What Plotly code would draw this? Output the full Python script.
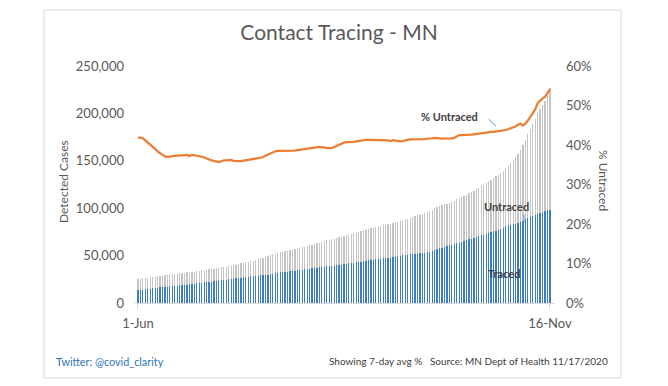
import pandas as pd
import plotly.graph_objects as go

dates = pd.date_range("2020-06-01", "2020-11-16", freq="D")

total_cases = [
    25000, 25400, 25900, 26300, 26700,
    27200, 27500, 27900, 28300, 28600,
    29000, 29400, 29800, 30100, 30500,
    30800, 31100, 31400, 31700, 32000,
    32300, 32600, 32900, 33200, 33500,
    33900, 34300, 34700, 35100, 35500,
    35900, 36300, 36800, 37200, 37600,
    38000, 38300, 38600, 39200, 39800,
    40500, 41100, 41700, 42300, 42900,
    43500, 44100, 44800, 45500, 46200,
    47000, 47800, 48700, 49500, 50400,
    51200, 52000, 52800, 53500, 54100,
    54700, 55300, 55900, 56400, 56900,
    57500, 58200, 58900, 59600, 60300,
    61000, 61700, 62400, 63100, 63800,
    64500, 65200, 66000, 66700, 67300,
    67800, 68400, 69100, 69900, 70700,
    71500, 72300, 73000, 73700, 74400,
    75100, 75800, 76500, 77200, 78000,
    78800, 79600, 80400, 81000, 81500,
    81900, 82300, 82900, 83600, 84300,
    85000, 85700, 86500, 87300, 88200,
    89000, 89800, 90600, 91500, 92400,
    93300, 94300, 95300, 96300, 97400,
    98600, 99800, 101000, 102200, 103100,
    104000, 104900, 105800, 106900, 108100,
    109300, 110500, 111700, 113000, 114300,
    115600, 117000, 118500, 120000, 121600,
    123200, 124900, 126700, 128500, 130200,
    131900, 133600, 135400, 137300, 139500,
    141900, 144400, 147200, 150400, 153700,
    157300, 161500, 166500, 172000, 177800,
    183500, 189000, 194500, 200000, 204500,
    209000, 213500, 219500, 227000,
]

traced_cases = [
    13300, 13700, 14100, 14500, 14800,
    15200, 15500, 15900, 16200, 16500,
    16800, 17000, 17300, 17500, 17700,
    18000, 18200, 18500, 18800, 19000,
    19300, 19600, 19900, 20200, 20600,
    21000, 21400, 21700, 22000, 22300,
    22600, 22900, 23300, 23600, 23900,
    24300, 24700, 25100, 25500, 25800,
    26100, 26500, 26800, 27100, 27400,
    27700, 28000, 28200, 28500, 28800,
    29100, 29300, 29600, 29900, 30300,
    30800, 31300, 31800, 32200, 32500,
    32800, 33100, 33400, 33800, 34200,
    34600, 35000, 35300, 35600, 36000,
    36300, 36600, 36900, 37200, 37500,
    37900, 38300, 38700, 39100, 39300,
    39500, 39700, 40000, 40500, 41000,
    41500, 41900, 42200, 42500, 42800,
    43200, 43600, 44000, 44500, 45000,
    45400, 45800, 46200, 46600, 46800,
    47000, 47200, 47400, 47800, 48400,
    49000, 49500, 49900, 50300, 50700,
    51000, 51300, 51600, 51900, 52200,
    52400, 52600, 52900, 53300, 53700,
    54500, 55500, 56500, 57500, 58400,
    59300, 60100, 61000, 61700, 62400,
    63100, 63800, 64600, 65400, 66300,
    67200, 68000, 68900, 69800, 70600,
    71400, 72200, 73000, 73900, 74700,
    75500, 76400, 77300, 78400, 79600,
    80800, 82000, 82800, 83300, 83800,
    84300, 85300, 86700, 88200, 89500,
    90700, 91800, 92900, 94000, 95000,
    95900, 96700, 97600, 98500,
]

pct_untraced = [
    41.9, 41.9, 41.7, 41.2, 40.6,
    40.1, 39.7, 39.0, 38.4, 37.9,
    37.5, 37.1, 37.0, 37.1, 37.2,
    37.3, 37.4, 37.4, 37.4, 37.5,
    37.5, 37.2, 37.5, 37.4, 37.3,
    37.2, 37.1, 36.9, 36.6, 36.3,
    36.1, 36.0, 35.8, 35.7, 35.9,
    36.1, 36.1, 36.2, 36.2, 36.0,
    35.9, 35.9, 35.9, 36.0, 36.1,
    36.2, 36.4, 36.4, 36.5, 36.6,
    36.8, 36.9, 37.3, 37.6, 37.8,
    38.1, 38.4, 38.5, 38.5, 38.5,
    38.5, 38.5, 38.5, 38.5, 38.6,
    38.7, 38.8, 38.9, 39.0, 39.1,
    39.2, 39.3, 39.4, 39.5, 39.5,
    39.4, 39.4, 39.2, 39.2, 39.2,
    39.5, 39.8, 40.0, 40.3, 40.6,
    40.7, 40.7, 40.8, 40.8, 40.9,
    41.0, 41.2, 41.3, 41.3, 41.3,
    41.3, 41.3, 41.3, 41.3, 41.3,
    41.3, 41.3, 41.2, 41.0, 41.2,
    41.1, 41.0, 40.9, 41.0, 41.2,
    41.3, 41.4, 41.4, 41.4, 41.5,
    41.5, 41.5, 41.5, 41.6, 41.6,
    41.7, 41.8, 41.8, 41.7, 41.6,
    41.6, 41.6, 41.6, 41.7, 41.8,
    42.2, 42.5, 42.5, 42.5, 42.6,
    42.6, 42.6, 42.7, 42.8, 42.9,
    43.0, 43.1, 43.1, 43.2, 43.3,
    43.3, 43.4, 43.4, 43.5, 43.7,
    43.8, 44.0, 44.2, 44.4, 44.7,
    45.1, 45.4, 44.9, 45.4, 46.2,
    47.2, 48.2, 49.0, 50.6, 51.3,
    51.8, 52.2, 53.1, 54.1,
]

untraced_cases = [t - r for t, r in zip(total_cases, traced_cases)]
pct_frac = [p / 100 for p in pct_untraced]

left_ticks = [0, 50000, 100000, 150000, 200000, 250000]
right_ticks = [0, 0.1, 0.2, 0.3, 0.4, 0.5, 0.6]
x_tick_dates = ["2020-06-01", "2020-11-16"]
x_tick_labels = ["1-Jun", "16-Nov"]

FONT = "Lato"
GREY = "#595959"
W, H = 668, 386
PL, PR, PT, PB = 135, 555, 66, 303  # plot area in pixels


def px(x):
    return (x - PL) / (PR - PL)


def py(y):
    return (PB - y) / (PB - PT)


fig = go.Figure()
fig.add_trace(go.Bar(x=dates, y=traced_cases, name="Traced",
                     marker=dict(color="#3A7DC6", line=dict(width=0))))
fig.add_trace(go.Bar(x=dates, y=untraced_cases, name="Untraced",
                     marker=dict(color="#C4C4C4", line=dict(width=0))))
fig.add_trace(go.Scatter(x=dates, y=pct_frac, name="% Untraced", yaxis="y2",
                         mode="lines", line=dict(color="#ED7D31", width=2.25)))

x0 = pd.Timestamp("2020-06-01") - pd.Timedelta(hours=29)
x1 = x0 + pd.Timedelta(days=(PR - PL) / 2.452)

fig.update_layout(
    width=W, height=H,
    margin=dict(l=PL, r=W - PR, t=PT, b=H - PB, pad=0),
    paper_bgcolor="white", plot_bgcolor="white",
    barmode="stack", bargap=0.5,
    showlegend=False,
    font=dict(family=FONT, color=GREY, size=13),
    title=dict(text="Contact Tracing - MN", x=339 / W, xanchor="center",
               y=1 - 33 / H, yanchor="middle",
               font=dict(family=FONT, size=21, color=GREY)),
    xaxis=dict(type="date", range=[x0, x1], tickvals=x_tick_dates,
               ticktext=x_tick_labels, showgrid=False, zeroline=False,
               showline=True, linecolor="#D9D9D9", linewidth=1,
               ticks="outside", ticklen=5, tickcolor="#D9D9D9",
               ticklabelstandoff=3, tickfont=dict(size=13, color=GREY)),
    yaxis=dict(range=[0, 250000], tickvals=left_ticks, tickformat=",d",
               showgrid=False, zeroline=False, showline=False,
               ticklabelstandoff=10, tickfont=dict(size=13, color=GREY)),
    yaxis2=dict(range=[0, 0.6], tickvals=right_ticks, tickformat=".0%",
                overlaying="y", side="right", showgrid=False, zeroline=False,
                showline=False, ticklabelstandoff=10,
                tickfont=dict(size=13, color=GREY)),
)

# chart border
fig.add_shape(type="rect", xref="paper", yref="paper",
              x0=px(44), x1=px(621), y0=py(378), y1=py(10),
              line=dict(color="#D9D9D9", width=1), layer="below")

ann = []
ann.append(dict(text="Detected Cases", xref="paper", yref="paper",
                x=px(63), y=py(182), textangle=-90, showarrow=False,
                xanchor="center", yanchor="middle",
                font=dict(size=12, color=GREY)))
ann.append(dict(text="% Untraced", xref="paper", yref="paper",
                x=px(604), y=py(180), textangle=90, showarrow=False,
                xanchor="center", yanchor="middle",
                font=dict(size=12, color=GREY)))
ann.append(dict(text="<b>% Untraced</b>", xref="paper", yref="paper",
                x=px(449), y=py(116), showarrow=False,
                xanchor="center", yanchor="middle",
                font=dict(size=11, color="#404040")))
ann.append(dict(text="<b>Untraced</b>", xref="paper", yref="paper",
                x=px(506), y=py(206), showarrow=False,
                xanchor="center", yanchor="middle",
                font=dict(size=11, color="#404040")))
ann.append(dict(text="<b>Traced</b>", xref="paper", yref="paper",
                x=px(504), y=py(273), showarrow=False,
                xanchor="center", yanchor="middle",
                font=dict(size=11, color="#404040")))
# leader lines
ann.append(dict(text="", xref="paper", yref="paper", x=px(496), y=py(126),
                ax=-9, ay=-8, showarrow=True, arrowhead=0, arrowwidth=1,
                arrowcolor="#5B9BD5"))
ann.append(dict(text="", xref="paper", yref="paper", x=px(524), y=py(223),
                ax=0, ay=-10, showarrow=True, arrowhead=0, arrowwidth=1,
                arrowcolor="#5B9BD5"))
ann.append(dict(text="Twitter: @covid_clarity", xref="paper", yref="paper",
                x=px(54), y=py(361), showarrow=False,
                xanchor="left", yanchor="middle",
                font=dict(size=10.8, color="#2E75B6")))
ann.append(dict(text="Showing 7-day avg %   Source: MN Dept of Health 11/17/2020",
                xref="paper", yref="paper",
                x=px(610), y=py(361), showarrow=False,
                xanchor="right", yanchor="middle",
                font=dict(size=10, color="#404040")))
fig.update_layout(annotations=ann)

fig.write_html("out.html", config={"staticPlot": True},
               post_script="document.body.style.margin='0';")
